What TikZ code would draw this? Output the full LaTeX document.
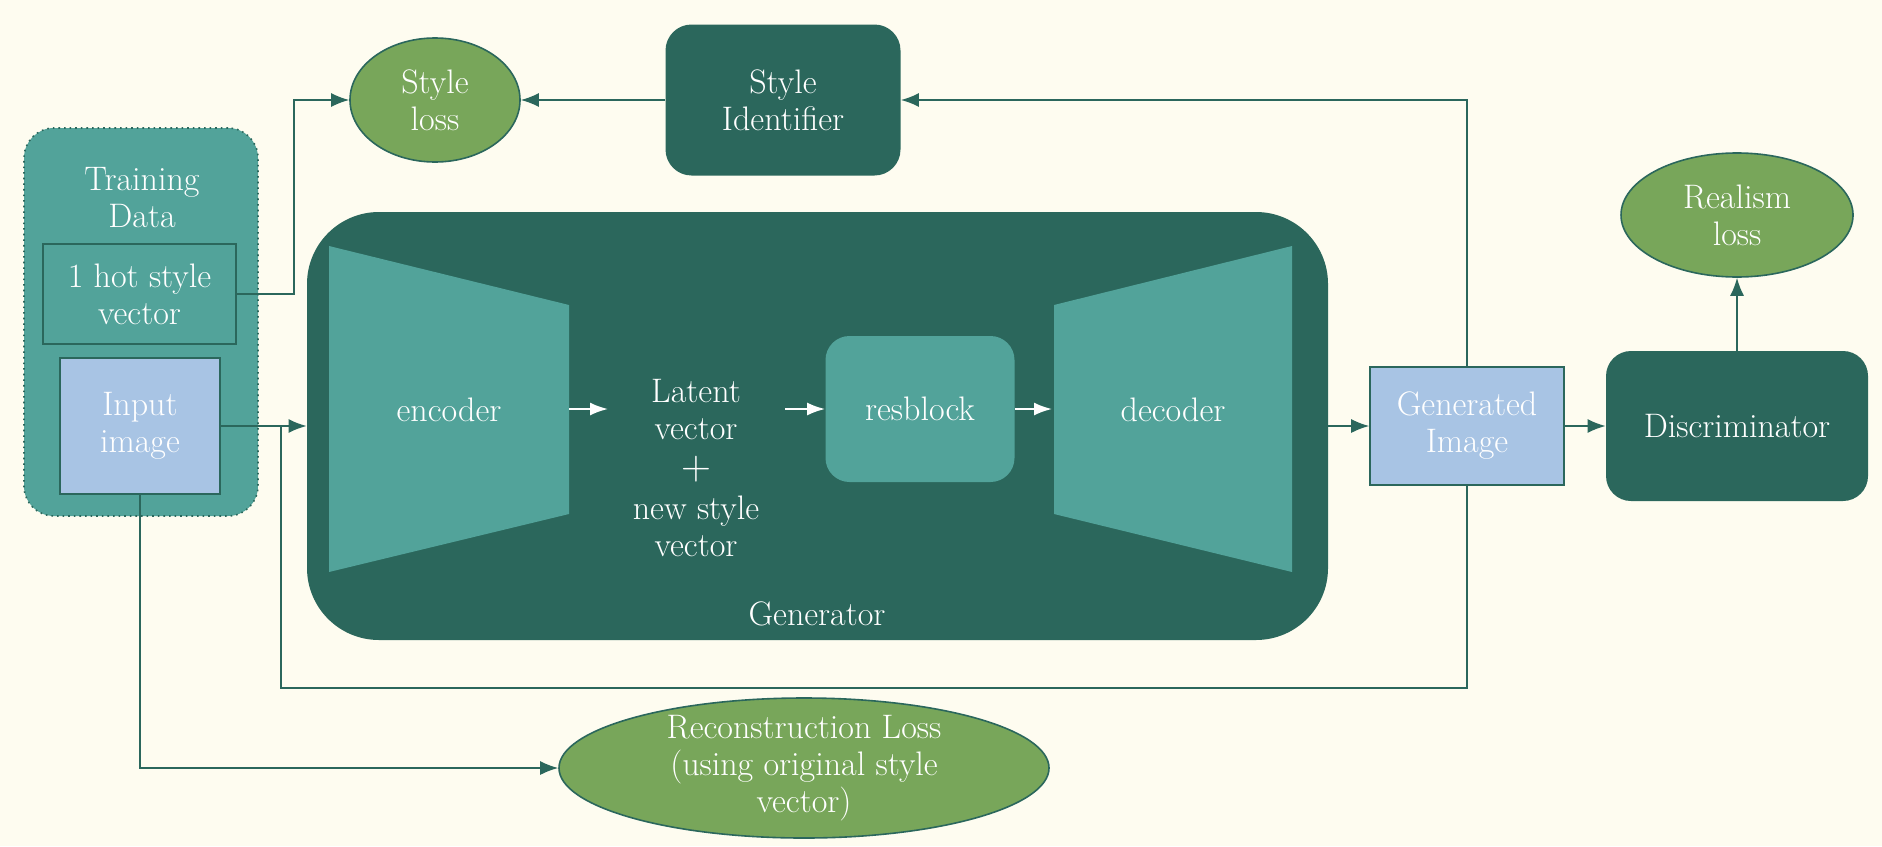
\documentclass[tikz,border=0pt]{standalone}
\usetikzlibrary{shapes.geometric,arrows.meta}

\definecolor{bgcream}{RGB}{254,252,240}
\definecolor{darkteal}{RGB}{43,103,92}
\definecolor{lightteal}{RGB}{82,163,154}
\definecolor{paleblue}{RGB}{168,196,228}
\definecolor{lossgreen}{RGB}{120,166,90}

\tikzset{
  every node/.style={text=white, align=center, font=\fontsize{17}{18.5}\selectfont},
  databox/.style={rectangle, rounded corners=15pt, fill=lightteal, draw=darkteal, dotted, line width=0.8pt, inner sep=0pt},
  hotbox/.style={rectangle, fill=lightteal, draw=darkteal, line width=0.8pt, inner sep=0pt},
  imgbox/.style={rectangle, fill=paleblue, draw=darkteal, line width=0.8pt, inner sep=0pt},
  darkbox/.style={rectangle, rounded corners=13pt, fill=darkteal, inner sep=0pt},
  resbox/.style={rectangle, rounded corners=12pt, fill=lightteal, inner sep=0pt},
  lossell/.style={ellipse, fill=lossgreen, draw=darkteal, line width=0.8pt, inner sep=0pt},
  link/.style={draw=darkteal, line width=0.8pt, -{Latex[length=9pt,width=7pt]}},
  plainlink/.style={draw=darkteal, line width=0.8pt},
  innerlink/.style={draw=white, line width=1pt, -{Latex[length=9pt,width=6.5pt]}}
}

\begin{document}
\begin{tikzpicture}[x=0.5pt, y=-0.5pt]
\fill[bgcream] (0,0) rectangle (1882,846);

% training data
\node[databox, minimum width=117pt, minimum height=194pt] (train) at (141,322) {};
\node (traintitle) at (142,198) {Training\\Data};
\node[hotbox, minimum width=96.5pt, minimum height=50pt] (hot) at (139.5,294) {1 hot style\\vector};
\node[imgbox, minimum width=80pt, minimum height=68pt] (input) at (140,426) {Input\\image};

% style branch
\node[lossell, minimum width=85pt, minimum height=62pt] (styleloss) at (435,100) {Style\\loss};
\node[darkbox, minimum width=117.5pt, minimum height=75.5pt] (styleid) at (783,100) {Style\\Identifier};

% generator
\node[darkbox, rounded corners=36pt, minimum width=510.5pt, minimum height=214pt] (gen) at (817.5,426) {};
\fill[lightteal] (329,246) -- (569,305) -- (569,514) -- (329,572) -- cycle;
\fill[lightteal] (1054,305) -- (1292,246) -- (1292,572) -- (1054,514) -- cycle;
\node (enc) at (449,410) {encoder};
\node (dec) at (1173,410) {decoder};
\node (latent) at (696,468) {Latent\\vector\\[1.5pt]{\fontsize{21}{18.5}\selectfont$+$}\\[1.5pt]new style\\vector};
\node[resbox, minimum width=94.5pt, minimum height=73pt] (res) at (920,409) {resblock};
\node (genlabel) at (817,614) {Generator};

\coordinate (encR) at (569,409);
\coordinate (latL) at (608,409);
\coordinate (latR) at (785,409);
\coordinate (decL) at (1052,409);
\draw[innerlink] (encR) -- (latL);
\draw[innerlink] (latR) -- (res.west);
\draw[innerlink] (res.east) -- (decL);

% output side
\node[imgbox, minimum width=97pt, minimum height=59pt] (genimg) at (1467,426) {Generated\\Image};
\node[darkbox, rounded corners=12.5pt, minimum width=131pt, minimum height=75pt] (disc) at (1737,426) {Discriminator};
\node[lossell, minimum width=116pt, minimum height=62pt] (realism) at (1737,215) {Realism\\loss};
\node[lossell, minimum width=245pt, minimum height=70pt] (recon) at (804,768) {};
\node (recontext) at (recon.center) {Reconstruction Loss\\(using original style\\vector)};

% connectors
\coordinate (hotbend) at (294,294);
\draw[link] (hot.east) -- (hotbend) |- (styleloss.west);
\draw[link] (styleid.west) -- (styleloss.east);
\draw[link] (genimg.north) |- (styleid.east);
\draw[link] (input.east) -- (gen.west);
\coordinate (fbcorner) at (281,688);
\draw[plainlink] (genimg.south) |- (fbcorner) -- (fbcorner |- input.east);
\draw[link] (input.south) |- (recon.west);
\draw[link] (gen.east) -- (genimg.west);
\draw[link] (genimg.east) -- (disc.west);
\draw[link] (disc.north) -- (realism.south);

\end{tikzpicture}
\end{document}
